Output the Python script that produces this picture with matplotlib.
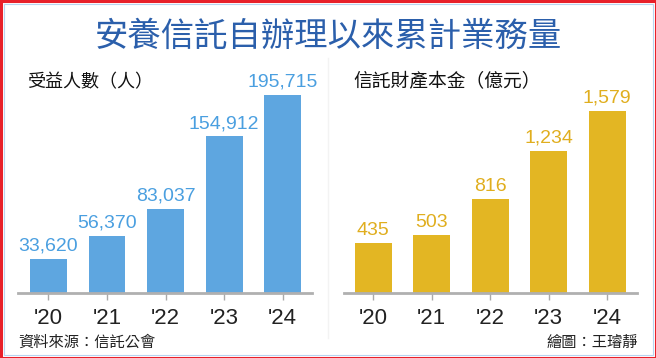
import matplotlib.pyplot as plt
from matplotlib.patches import Rectangle

plt.rcParams['font.family'] = ['Noto Sans CJK TC', 'DejaVu Sans']

years = ["'20", "'21", "'22", "'23", "'24"]
beneficiaries = [33620, 56370, 83037, 154912, 195715]
principal = [435, 503, 816, 1234, 1579]

title = '安養信託自辦理以來累計業務量'
left_title = '受益人數（人）'
right_title = '信託財產本金（億元）'
source = '資料來源：信託公會'
credit = '繪圖：王璿靜'

W, H = 656, 358
fig = plt.figure(figsize=(W / 100, H / 100), dpi=100)
fig.patch.set_facecolor('white')

def px(x0, y0, x1, y1):
    # pixel box (top-left origin) -> figure fraction
    return [x0 / W, 1 - y1 / H, (x1 - x0) / W, (y1 - y0) / H]

# frame
fig.patches.append(Rectangle((0.5 / W, 0.5 / H), 1 - 1 / W, 1 - 1 / H, transform=fig.transFigure,
                             fill=False, ec='#e8202a', lw=2.2))
fig.patches.append(Rectangle((3.5 / W, 3.5 / H), 1 - 7 / W, 1 - 7 / H, transform=fig.transFigure,
                             fill=False, ec='#b8d4f0', lw=0.8))
# very faint panel separator
fig.add_artist(plt.Line2D([328 / W, 328 / W], [20 / H, 300 / H], transform=fig.transFigure,
                          color='#f3f3f3', lw=1))

fig.text(328 / W, 1 - 36 / H, title, ha='center', va='center', fontsize=24, color='#2b5fab')

num_font = ['Liberation Sans', 'DejaVu Sans']

def panel(box, xlim, values, ymax, bar_c, lab_c):
    ax = fig.add_axes(px(*box))
    x = range(len(values))
    ax.bar(x, values, width=0.63, color=bar_c, zorder=2)
    for i, v in zip(x, values):
        ax.annotate(f'{v:,}', (i, v), xytext=(0, 3), textcoords='offset points',
                    ha='center', va='bottom', fontsize=14, color=lab_c,
                    family=num_font)
    ax.set_xlim(*xlim)
    ax.set_ylim(0, ymax)
    ax.set_xticks(list(x))
    ax.set_xticklabels(years, family=num_font, fontsize=16, color='#222222')
    ax.tick_params(axis='x', length=5, width=1, color='#aaaaaa', pad=6)
    ax.set_yticks([])
    for s in ['top', 'right', 'left']:
        ax.spines[s].set_visible(False)
    ax.spines['bottom'].set_color('#b0b0b0')
    ax.spines['bottom'].set_linewidth(2)
    ax.patch.set_alpha(0)
    return ax

panel((18, 60, 312, 293), (-0.52, 4.5), beneficiaries, 195715 * 233 / 198,
      '#5ea6e0', '#4a9fe0')
panel((344, 60, 637, 293), (-0.5, 4.51), principal, 1579 * 233 / 182,
      '#e3b623', '#e0ae1e')

fig.text(27 / W, 1 - 82 / H, left_title, ha='left', va='center', fontsize=13, color='#111111')
fig.text(353 / W, 1 - 82 / H, right_title, ha='left', va='center', fontsize=13.5, color='#111111')
fig.text(18 / W, 1 - 342 / H, source, ha='left', va='center', fontsize=11, color='#222222')
fig.text(638 / W, 1 - 342 / H, credit, ha='right', va='center', fontsize=11, color='#222222')

fig.savefig('out.png', dpi=100)
